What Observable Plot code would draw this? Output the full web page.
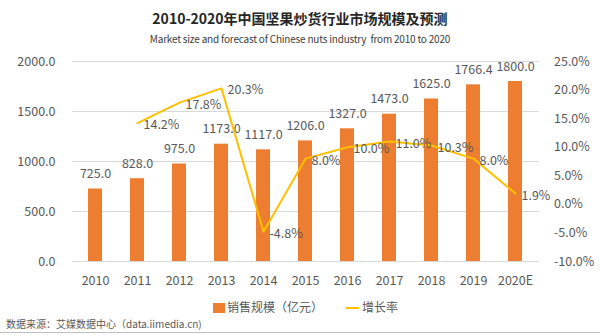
<!DOCTYPE html>
<html><head><meta charset="utf-8">
<script src="https://cdn.jsdelivr.net/npm/d3@7"></script>
<script src="https://cdn.jsdelivr.net/npm/@observablehq/plot@0.6"></script>
<style>
body{margin:0;width:600px;height:335px;background:#fff;font-family:"Noto Sans CJK SC",sans-serif;position:relative;overflow:hidden}
.abs{position:absolute;white-space:nowrap}
#title{top:8px;left:0;width:600px;text-align:center;font-weight:bold;font-size:14px;line-height:20px;color:#262626}
#subtitle{top:31px;left:0;width:600px;text-align:center;font-size:10px;line-height:16px;color:#404040;letter-spacing:-0.2px}
#c1,#c2{position:absolute;left:0;top:50px}
.lg{font-size:12px;line-height:16px;color:#595959}
#source{left:6px;top:316px;font-size:10px;line-height:16px;color:#595959}
#rule{left:0;top:332px;width:600px;height:1px;background:#bfbfbf}
</style></head>
<body>
<div id="title" class="abs">2010-2020年中国坚果炒货行业市场规模及预测</div>
<div id="subtitle" class="abs">Market size and forecast of Chinese nuts industry&nbsp; from 2010 to 2020</div>
<div id="c1"></div>
<div id="c2"></div>
<div class="abs" style="left:213px;top:303px;width:12px;height:10px;background:#ED7D31"></div>
<div class="abs lg" style="left:227px;top:299px">销售规模（亿元）</div>
<div class="abs" style="left:346px;top:307px;width:13px;height:2px;background:#FFC000"></div>
<div class="abs lg" style="left:362px;top:299px">增长率</div>
<div id="source" class="abs">数据来源：艾媒数据中心（data.iimedia.cn)</div>
<div id="rule" class="abs"></div>
<script>
const years = ["2010","2011","2012","2013","2014","2015","2016","2017","2018","2019","2020E"];
const sales = [725.0, 828.0, 975.0, 1173.0, 1117.0, 1206.0, 1327.0, 1473.0, 1625.0, 1766.4, 1800.0];
const growth = [null, 14.2, 17.8, 20.3, -4.8, 8.0, 10.0, 11.0, 10.3, 8.0, 1.9];
const leftTicks = [0, 500, 1000, 1500, 2000];
const rightTicks = [-10, -5, 0, 5, 10, 15, 20, 25];

const data = years.map((y, i) => ({year: y, sales: sales[i], growth: growth[i]}));
const gdata = data.filter(d => d.growth != null);

const common = {
  width: 600, height: 241, marginTop: 11, marginBottom: 30, marginLeft: 72, marginRight: 61.5,
  x: {domain: years, paddingInner: 0.67, paddingOuter: 0.33, axis: null},
  style: {fontFamily: '"Noto Sans CJK SC", sans-serif', fontSize: "12.5px", color: "#595959", background: "transparent", overflow: "visible"}
};

const p1 = Plot.plot({
  ...common,
  y: {domain: [0, 2000], axis: null},
  marks: [
    Plot.gridY(leftTicks, {stroke: "#d9d9d9", strokeOpacity: 1}),
    Plot.barY(data, {x: "year", y: "sales", fill: "#ED7D31"}),
    Plot.text(data, {x: "year", y: "sales", text: d => d.sales.toFixed(1), dy: -15, fill: "#595959"}),
    Plot.axisY(leftTicks, {anchor: "left", label: null, tickSize: 0, tickPadding: 17, tickFormat: d => d.toFixed(1), fill: "#595959"}),
    Plot.axisX({anchor: "bottom", label: null, tickSize: 0, tickPadding: 15, fill: "#595959"})
  ]
});
document.getElementById("c1").appendChild(p1);

const p2 = Plot.plot({
  ...common,
  y: {domain: [-10, 25], axis: null},
  marks: [
    Plot.line(gdata, {x: "year", y: "growth", stroke: "#FFC000", strokeWidth: 2}),
    Plot.text(gdata, {x: "year", y: "growth", text: d => d.growth.toFixed(1) + "%", textAnchor: "start", dx: 6, dy: 2, fill: "#595959"}),
    Plot.axisY(rightTicks, {anchor: "right", label: null, tickSize: 0, tickPadding: 15, tickFormat: d => d.toFixed(1) + "%", fill: "#595959"})
  ]
});
document.getElementById("c2").appendChild(p2);
</script>
</body></html>
